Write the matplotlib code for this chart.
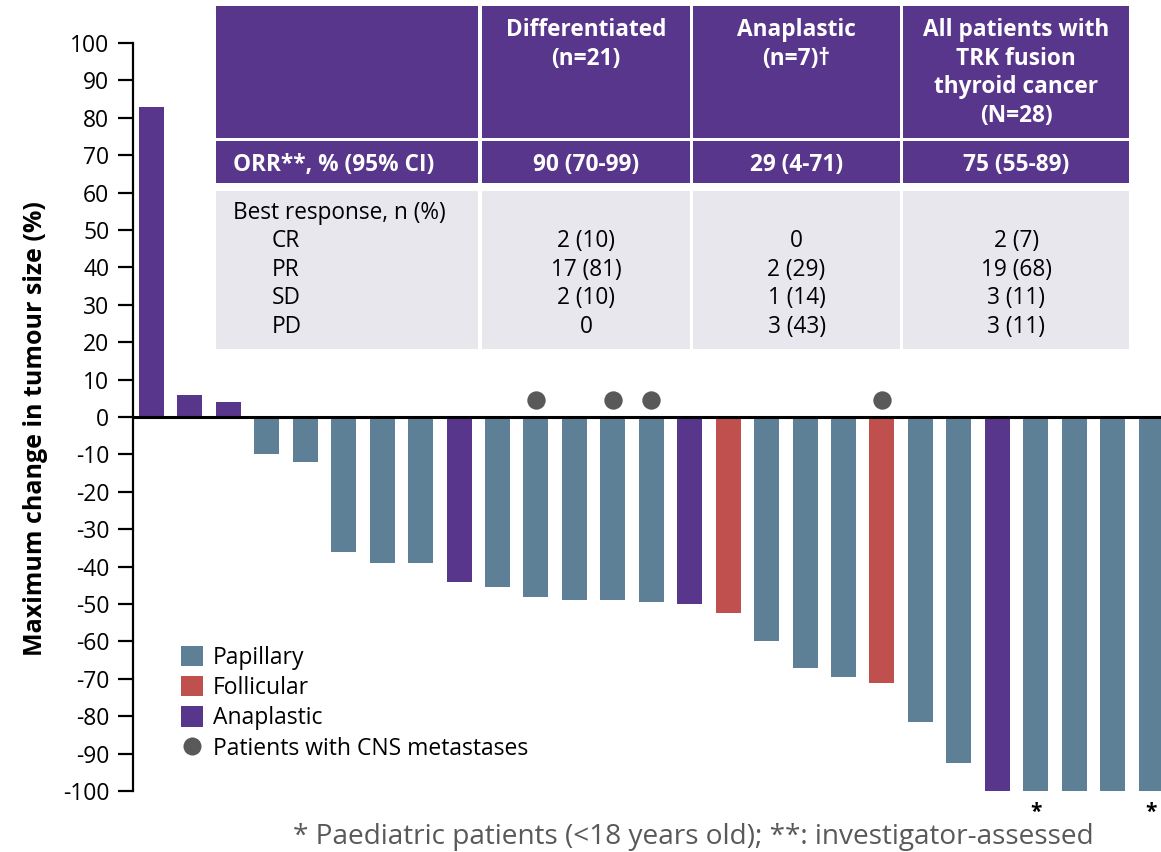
import matplotlib
matplotlib.use("Agg")
import matplotlib.pyplot as plt
from matplotlib.patches import Rectangle, Patch
from matplotlib.lines import Line2D
import numpy as np

plt.rcParams['font.family'] = ['Open Sans', 'DejaVu Sans']

# ---- data ----
change = [83, 6, 4, -10, -12, -36, -39, -39, -44, -45.5, -48, -49, -49, -49.5,
          -50, -52.5, -60, -67, -69.5, -71, -81.5, -92.5, -100, -100, -100, -100, -100]
histology = ['Anaplastic', 'Anaplastic', 'Anaplastic', 'Papillary', 'Papillary',
             'Papillary', 'Papillary', 'Papillary', 'Anaplastic', 'Papillary',
             'Papillary', 'Papillary', 'Papillary', 'Papillary', 'Anaplastic',
             'Follicular', 'Papillary', 'Papillary', 'Papillary', 'Follicular',
             'Papillary', 'Papillary', 'Anaplastic', 'Papillary', 'Papillary',
             'Papillary', 'Papillary']
cns_patients = [10, 12, 13, 19]
paediatric_patients = [23, 26]

colors = {'Papillary': '#5E8096', 'Follicular': '#C0504D', 'Anaplastic': '#58368C'}
legend_order = ['Papillary', 'Follicular', 'Anaplastic']
cns_label = 'Patients with CNS metastases'
dot_color = '#595959'

yticks = list(range(-100, 101, 10))
ylabel = 'Maximum change in tumour size (%)'
footnote = '* Paediatric patients (<18 years old); **: investigator-assessed'

# summary table
col_headers = ['Differentiated\n(n=21)', 'Anaplastic\n(n=7)\u2020',
               'All patients with\nTRK fusion\nthyroid cancer\n(N=28)']
orr_label = 'ORR**, % (95% CI)'
orr_values = ['90 (70-99)', '29 (4-71)', '75 (55-89)']
best_label = 'Best response, n (%)'
responses = ['CR', 'PR', 'SD', 'PD']
resp_differentiated = ['2 (10)', '17 (81)', '2 (10)', '0']
resp_anaplastic = ['0', '2 (29)', '1 (14)', '3 (43)']
resp_all = ['2 (7)', '19 (68)', '3 (11)', '3 (11)']

# ---- figure ----
W, H = 1161, 852
fig = plt.figure(figsize=(W / 100, H / 100), dpi=100)

def fx(px):
    return px / W

def fy(py):
    return 1 - py / H

ax = fig.add_axes([fx(133), fy(791), fx(1161) - fx(133), fy(43) - fy(791)])

x = np.arange(len(change))
ax.bar(x, change, width=0.65, color=[colors[h] for h in histology], zorder=2)
ax.axhline(0, color='black', lw=2.2, zorder=3)

ax.scatter(cns_patients, [4.5] * len(cns_patients), s=175, color=dot_color,
           zorder=4, clip_on=False, linewidths=0)
for i in paediatric_patients:
    ax.text(i, -102.8, '*', ha='center', va='top', fontsize=15,
            fontweight='bold', color='black', clip_on=False)

ax.set_xlim(-0.481, 26.26)
ax.set_ylim(-100, 100)
ax.set_yticks(yticks)
ax.set_yticklabels([str(t) for t in yticks])
ax.set_xticks([])
for s in ['top', 'right', 'bottom']:
    ax.spines[s].set_visible(False)
ax.spines['left'].set_linewidth(1.6)
ax.tick_params(axis='y', direction='out', length=11, width=1.6,
               labelsize=16.5, pad=6)

fig.text(fx(36), fy(429), ylabel, rotation=90, ha='center', va='center',
         fontsize=18, fontweight='bold')

handles = [Patch(facecolor=colors[k], edgecolor='none', label=k) for k in legend_order]
handles.append(Line2D([], [], marker='o', color='none', markerfacecolor=dot_color,
                      markeredgewidth=0, markersize=13, label=cns_label))
ax.legend(handles=handles, loc='upper left', bbox_to_anchor=(fx(181), fy(646)),
          bbox_transform=fig.transFigure, frameon=False, fontsize=16.5,
          handlelength=0.98, handleheight=0.98, handletextpad=0.42,
          labelspacing=0.27, borderpad=0, borderaxespad=0)

fig.text(fx(693), fy(844), footnote, ha='center', va='baseline',
         fontsize=20.2, color='#595959')

# ---- summary table ----
purple = '#58368C'
grey = '#E8E7EE'
col_edges = [(216, 478), (482, 690), (693, 900), (903, 1129)]
row_edges = [(6, 138), (141, 183), (191, 349)]
row_colors = [purple, purple, grey]

for (y0, y1), rc in zip(row_edges, row_colors):
    for (x0, x1) in col_edges:
        fig.patches.append(Rectangle((fx(x0), fy(y1)), fx(x1) - fx(x0), fy(y0) - fy(y1),
                                     transform=fig.transFigure, facecolor=rc,
                                     edgecolor='none', zorder=5))

col_centers = [(a + b) / 2 for a, b in col_edges[1:]]
line_gap = 28.7
fs_table = 16.3
for cx, header in zip(col_centers, col_headers):
    for i, line in enumerate(header.split('\n')):
        fig.text(fx(cx), fy(36 + i * line_gap), line, ha='center', va='baseline',
                 fontsize=fs_table, fontweight='bold', color='white', zorder=6)

fig.text(fx(233), fy(171), orr_label, ha='left', va='baseline', fontsize=fs_table,
         fontweight='bold', color='white', zorder=6)
for cx, v in zip(col_centers, orr_values):
    fig.text(fx(cx), fy(171), v, ha='center', va='baseline', fontsize=fs_table,
             fontweight='bold', color='white', zorder=6)

fig.text(fx(233), fy(219), best_label, ha='left', va='baseline', fontsize=fs_table,
         color='black', zorder=6)
for j, r in enumerate(responses):
    yb = 247 + j * line_gap
    fig.text(fx(272), fy(yb), r, ha='left', va='baseline', fontsize=fs_table,
             color='black', zorder=6)
    for cx, col in zip(col_centers, [resp_differentiated, resp_anaplastic, resp_all]):
        fig.text(fx(cx), fy(yb), col[j], ha='center', va='baseline', fontsize=fs_table,
                 color='black', zorder=6)

fig.savefig('out.png', dpi=100)
